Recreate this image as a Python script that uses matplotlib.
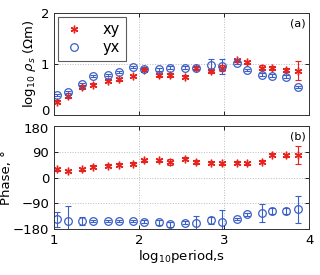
import matplotlib
matplotlib.use("Agg")
import matplotlib.pyplot as plt
import matplotlib.transforms as mtransforms
import numpy as np

period = [1.03, 1.16, 1.33, 1.46, 1.63, 1.76, 1.93, 2.06, 2.24, 2.36,
          2.54, 2.67, 2.84, 2.97, 3.15, 3.27, 3.44, 3.56, 3.73, 3.87]

rho_xy = [0.26, 0.37, 0.54, 0.59, 0.67, 0.70, 0.77, 0.89, 0.78, 0.79,
          0.75, 0.92, 0.87, 0.92, 1.07, 1.03, 0.93, 0.92, 0.89, 0.87]
rho_xy_err = [0.03, 0.03, 0.03, 0.03, 0.03, 0.03, 0.02, 0.03, 0.03, 0.04,
              0.03, 0.03, 0.04, 0.05, 0.03, 0.03, 0.04, 0.03, 0.04, 0.19]
rho_yx = [0.39, 0.45, 0.60, 0.77, 0.79, 0.85, 0.94, 0.91, 0.90, 0.93,
          0.93, 0.93, 0.98, 0.95, 1.02, 0.89, 0.79, 0.77, 0.75, 0.54]
rho_yx_err = [0.02, 0.02, 0.02, 0.02, 0.02, 0.02, 0.02, 0.03, 0.03, 0.03,
              0.03, 0.03, 0.12, 0.15, 0.02, 0.02, 0.03, 0.03, 0.03, 0.02]

phi_xy = [28, 23, 28, 37, 41, 44, 48, 60, 60, 55,
          66, 55, 51, 50, 51, 50, 55, 80, 77, 78]
phi_xy_err = [5, 4, 5, 5, 5, 5, 5, 5, 5, 10,
              6, 7, 5, 5, 5, 5, 6, 5, 6, 32]
phi_yx = [-146, -151, -152, -152, -152, -152, -152, -154, -157, -164,
          -158, -160, -149, -154, -145, -129, -123, -116, -117, -111]
phi_yx_err = [26, 50, 15, 5, 5, 5, 5, 5, 8, 8,
              6, 25, 12, 40, 5, 5, 32, 10, 12, 48]

red = '#e8221c'
blue = '#3a5fc8'
fs = 9.5

fig = plt.figure(figsize=(3.2, 2.75), dpi=100)
ax1 = fig.add_axes([0.169, 0.582, 0.797, 0.371])
ax2 = fig.add_axes([0.169, 0.167, 0.797, 0.375])

ast = (6, 2, 0)
for ax in (ax1, ax2):
    ax.set_xlim(1, 4)
    ax.set_xticks([1, 2, 3, 4])
    ax.grid(True, linestyle=':', color='#bbbbbb', linewidth=0.7)
    ax.tick_params(direction='in', labelsize=fs, length=3, width=0.6, top=True, right=True)
    for s in ax.spines.values():
        s.set_linewidth(0.7)
        s.set_color('#333333')

ax1.errorbar(period, rho_xy, yerr=rho_xy_err, fmt='none', ecolor=red, elinewidth=0.8, capsize=2.5, capthick=0.8)
ax1.errorbar(period, rho_yx, yerr=rho_yx_err, fmt='none', ecolor=blue, elinewidth=0.8, capsize=2.5, capthick=0.8)
ax1.plot(period, rho_xy, linestyle='none', marker=ast, color=red, markersize=5.5, markeredgewidth=1.0, label='xy')
ax1.plot(period, rho_yx, linestyle='none', marker='o', markerfacecolor='none', markeredgecolor=blue, markersize=5.5, markeredgewidth=0.9, label='yx')
ax1.set_ylim(0, 2)
ax1.set_yticks([0, 1, 2])
ax1.set_xticklabels([])
ax1.set_ylabel(r'log$_{10}$ $\rho_s$ ($\Omega$m)', fontsize=fs, labelpad=2)
ax1.text(0.985, 0.95, '(a)', transform=ax1.transAxes, ha='right', va='top', fontsize=8)
leg = ax1.legend(loc='upper left', fontsize=10.5, frameon=True, fancybox=False, edgecolor='#333333',
                 borderpad=0.4, handletextpad=1.2, labelspacing=0.2, handlelength=1.5,
                 borderaxespad=0.25)
leg.get_frame().set_linewidth(0.8)

ax2.errorbar(period, phi_xy, yerr=phi_xy_err, fmt='none', ecolor=red, elinewidth=0.8, capsize=2.5, capthick=0.8)
ax2.errorbar(period, phi_yx, yerr=phi_yx_err, fmt='none', ecolor=blue, elinewidth=0.8, capsize=2.5, capthick=0.8)
ax2.plot(period, phi_xy, linestyle='none', marker=ast, color=red, markersize=5.5, markeredgewidth=1.0)
ax2.plot(period, phi_yx, linestyle='none', marker='o', markerfacecolor='none', markeredgecolor=blue, markersize=5.5, markeredgewidth=0.9)
ax2.set_ylim(-180, 180)
ax2.set_yticks([-180, -90, 0, 90, 180])
ax2.set_yticklabels(['\u2212180', '\u221290', '0', '90', '180'])
ax2.set_ylabel('Phase, \u00b0', fontsize=fs, labelpad=0)
ax2.set_xlabel(r'log$_{10}$period,s', fontsize=fs, labelpad=1)
ax2.text(0.985, 0.95, '(b)', transform=ax2.transAxes, ha='right', va='top', fontsize=8)

# nudge the two touching tick labels apart
t0 = ax1.yaxis.get_major_ticks()[0].label1
t0.set_verticalalignment('baseline')
t180 = ax2.yaxis.get_major_ticks()[-1].label1
t180.set_transform(t180.get_transform() + mtransforms.ScaledTranslation(0, -1.5/72, fig.dpi_scale_trans))

fig.savefig('out.png', dpi=100)
